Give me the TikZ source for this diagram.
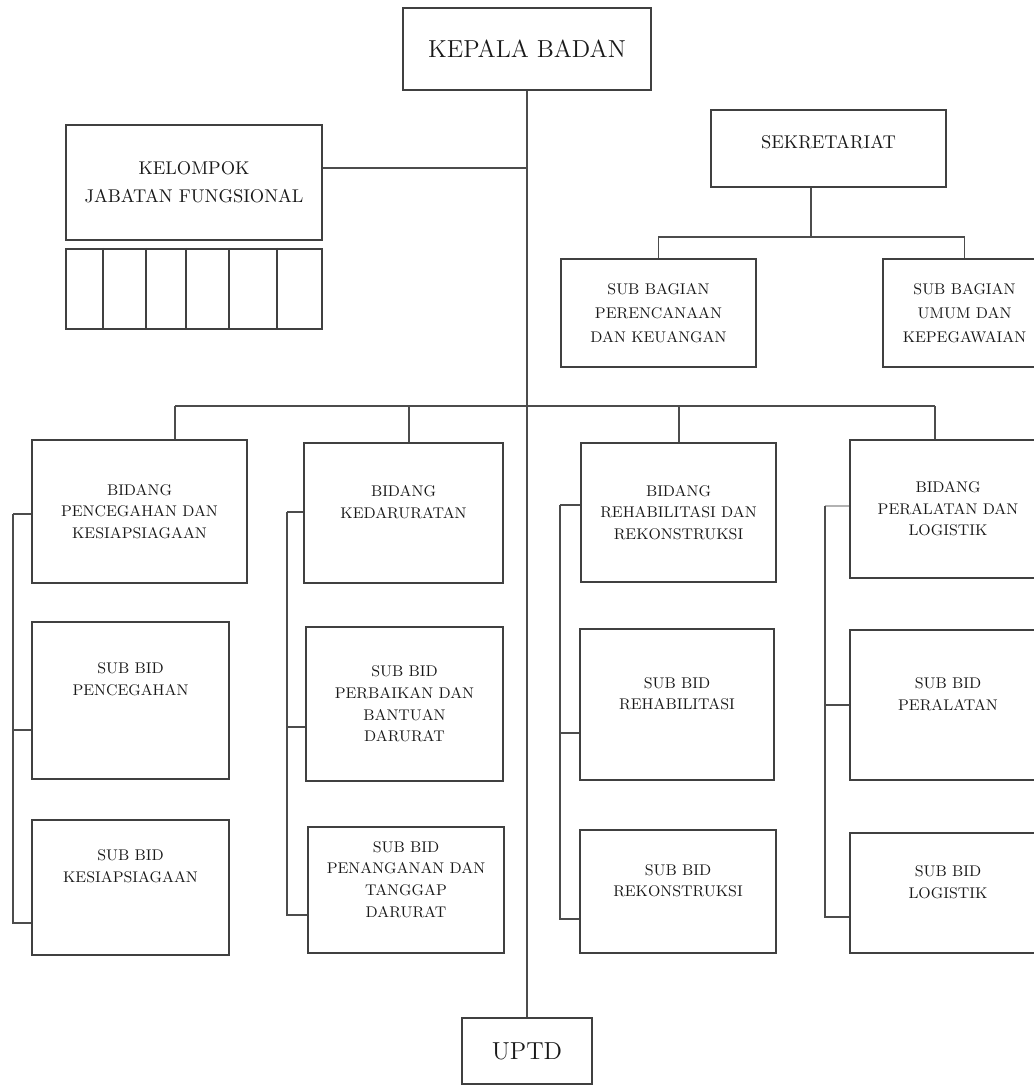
\documentclass[tikz,border=0pt]{standalone}

\tikzset{
	box/.style={draw=black!75, line width=1.2pt, rectangle, align=center, inner sep=1pt, text=black!90},
	head/.style={box, font=\fontsize{14}{17}\selectfont},
	group/.style={box, font=\fontsize{10.5}{16}\selectfont},
	bagian/.style={box, font=\fontsize{8.8}{13.5}\selectfont},
	unit/.style={box, font=\fontsize{8.8}{12.3}\selectfont},
	cell/.style={draw=black!75, line width=1.2pt},
	conn/.style={draw=black!70, line width=1pt}
}

\begin{document}
\begin{tikzpicture}[x=0.02cm, y=-0.02cm]
	\useasboundingbox (0,0) rectangle (1034,1086);
	\clip (0,0) rectangle (1034,1086);
	
	% Kepala badan and UPTD
	\node[head, minimum width=4.95cm, minimum height=1.64cm] (kepala) at (527,49) {KEPALA BADAN};
	\node[head, minimum width=2.6cm, minimum height=1.32cm] (uptd) at (527,1051) {UPTD};
	\draw[conn] (kepala.south) -- (uptd.north);
	
	% Kelompok jabatan fungsional
	\node[group, minimum width=5.12cm, minimum height=2.3cm] (kjf) at (194,182.5) {KELOMPOK\\JABATAN FUNGSIONAL};
	\node[box, minimum width=5.12cm, minimum height=1.6cm] (jf) at (194,289) {};
	\foreach \x in {103,146,186,229,277}
	\draw[cell] (jf.north -| \x,0) -- (jf.south -| \x,0);
	\coordinate (kjfj) at (527,168);
	\draw[conn] (kjfj -| kjf.east) -- (kjfj);
	
	% Sekretariat
	\node[group, minimum width=4.7cm, minimum height=1.54cm] (sek) at (828.5,148.5) {SEKRETARIAT\\[-9pt]~};
	\node[bagian, minimum width=3.9cm, minimum height=2.16cm] (sbp) at (658.5,313) {SUB BAGIAN\\PERENCANAAN\\DAN KEUANGAN};
	\node[bagian, minimum width=3.26cm, minimum height=2.16cm] (sbu) at (964.5,313) {SUB BAGIAN\\UMUM DAN\\KEPEGAWAIAN};
	\coordinate (sekj) at (811,237);
	\draw[conn] (sek.south -| sekj) -- (sekj);
	\draw[conn] (sbp.north) -- (sbp.north |- sekj) -- (sbu.north |- sekj) -- (sbu.north);
	
	% Bidang
	\node[unit, minimum width=4.3cm, minimum height=2.86cm] (bid1) at (139.5,511.5) {BIDANG\\PENCEGAHAN DAN\\KESIAPSIAGAAN};
	\node[unit, minimum width=3.98cm, minimum height=2.8cm] (bid2) at (403.5,513) {BIDANG\\KEDARURATAN\\~};
	\node[unit, minimum width=3.9cm, minimum height=2.78cm] (bid3) at (678.5,512.5) {BIDANG\\REHABILITASI DAN\\REKONSTRUKSI};
	\node[unit, minimum width=3.92cm, minimum height=2.76cm] (bid4) at (948,509) {BIDANG\\PERALATAN DAN\\LOGISTIK};
	
	% Sub bidang
	\node[unit, minimum width=3.94cm, minimum height=3.14cm] (suba1) at (130.5,700.5) {SUB BID\\PENCEGAHAN\\~\\~};
	\node[unit, minimum width=3.94cm, minimum height=2.7cm] (subb1) at (130.5,887.5) {SUB BID\\KESIAPSIAGAAN\\~\\~};
	\node[unit, minimum width=3.94cm, minimum height=3.08cm] (suba2) at (404.5,704) {SUB BID\\PERBAIKAN DAN\\BANTUAN\\DARURAT};
	\node[unit, minimum width=3.92cm, minimum height=2.52cm] (subb2) at (406,890) {SUB BID\\PENANGANAN DAN\\TANGGAP\\DARURAT\\~};
	\node[unit, minimum width=3.88cm, minimum height=3.02cm] (suba3) at (677,704.5) {SUB BID\\REHABILITASI\\~};
	\node[unit, minimum width=3.92cm, minimum height=2.46cm] (subb3) at (678,891.5) {SUB BID\\REKONSTRUKSI\\~};
	\node[unit, minimum width=3.92cm, minimum height=3cm] (suba4) at (948,705) {SUB BID\\PERALATAN\\~};
	\node[unit, minimum width=3.92cm, minimum height=2.4cm] (subb4) at (948,893) {SUB BID\\LOGISTIK\\~};
	
	% Bus to bidang
	\foreach \c/\bx in {1/175,2/409,3/679,4/935}
	\coordinate (bus\c) at (\bx,406);
	\draw[conn] (bus1) -- (bus4);
	\foreach \c in {1,...,4}
	\draw[conn] (bus\c) -- (bus\c |- bid\c.north);
	
	% Bidang to sub bidang
	\foreach \c/\sx/\ya/\yb/\yc/\tc in {1/13/514/730/923/black!70, 2/287/512/727/915/black!70, 3/560/505/733/919/black!70, 4/825/506/705/917/black!30}{
		\coordinate (top\c) at (\sx,\ya);
		\coordinate (mid\c) at (\sx,\yb);
		\coordinate (bot\c) at (\sx,\yc);
		\draw[conn, draw=\tc] (bid\c.west |- top\c) -- (top\c);
		\draw[conn] (top\c) -- (bot\c) -- (subb\c.west |- bot\c);
		\draw[conn] (mid\c) -- (suba\c.west |- mid\c);
	}
	
\end{tikzpicture}
\end{document}
